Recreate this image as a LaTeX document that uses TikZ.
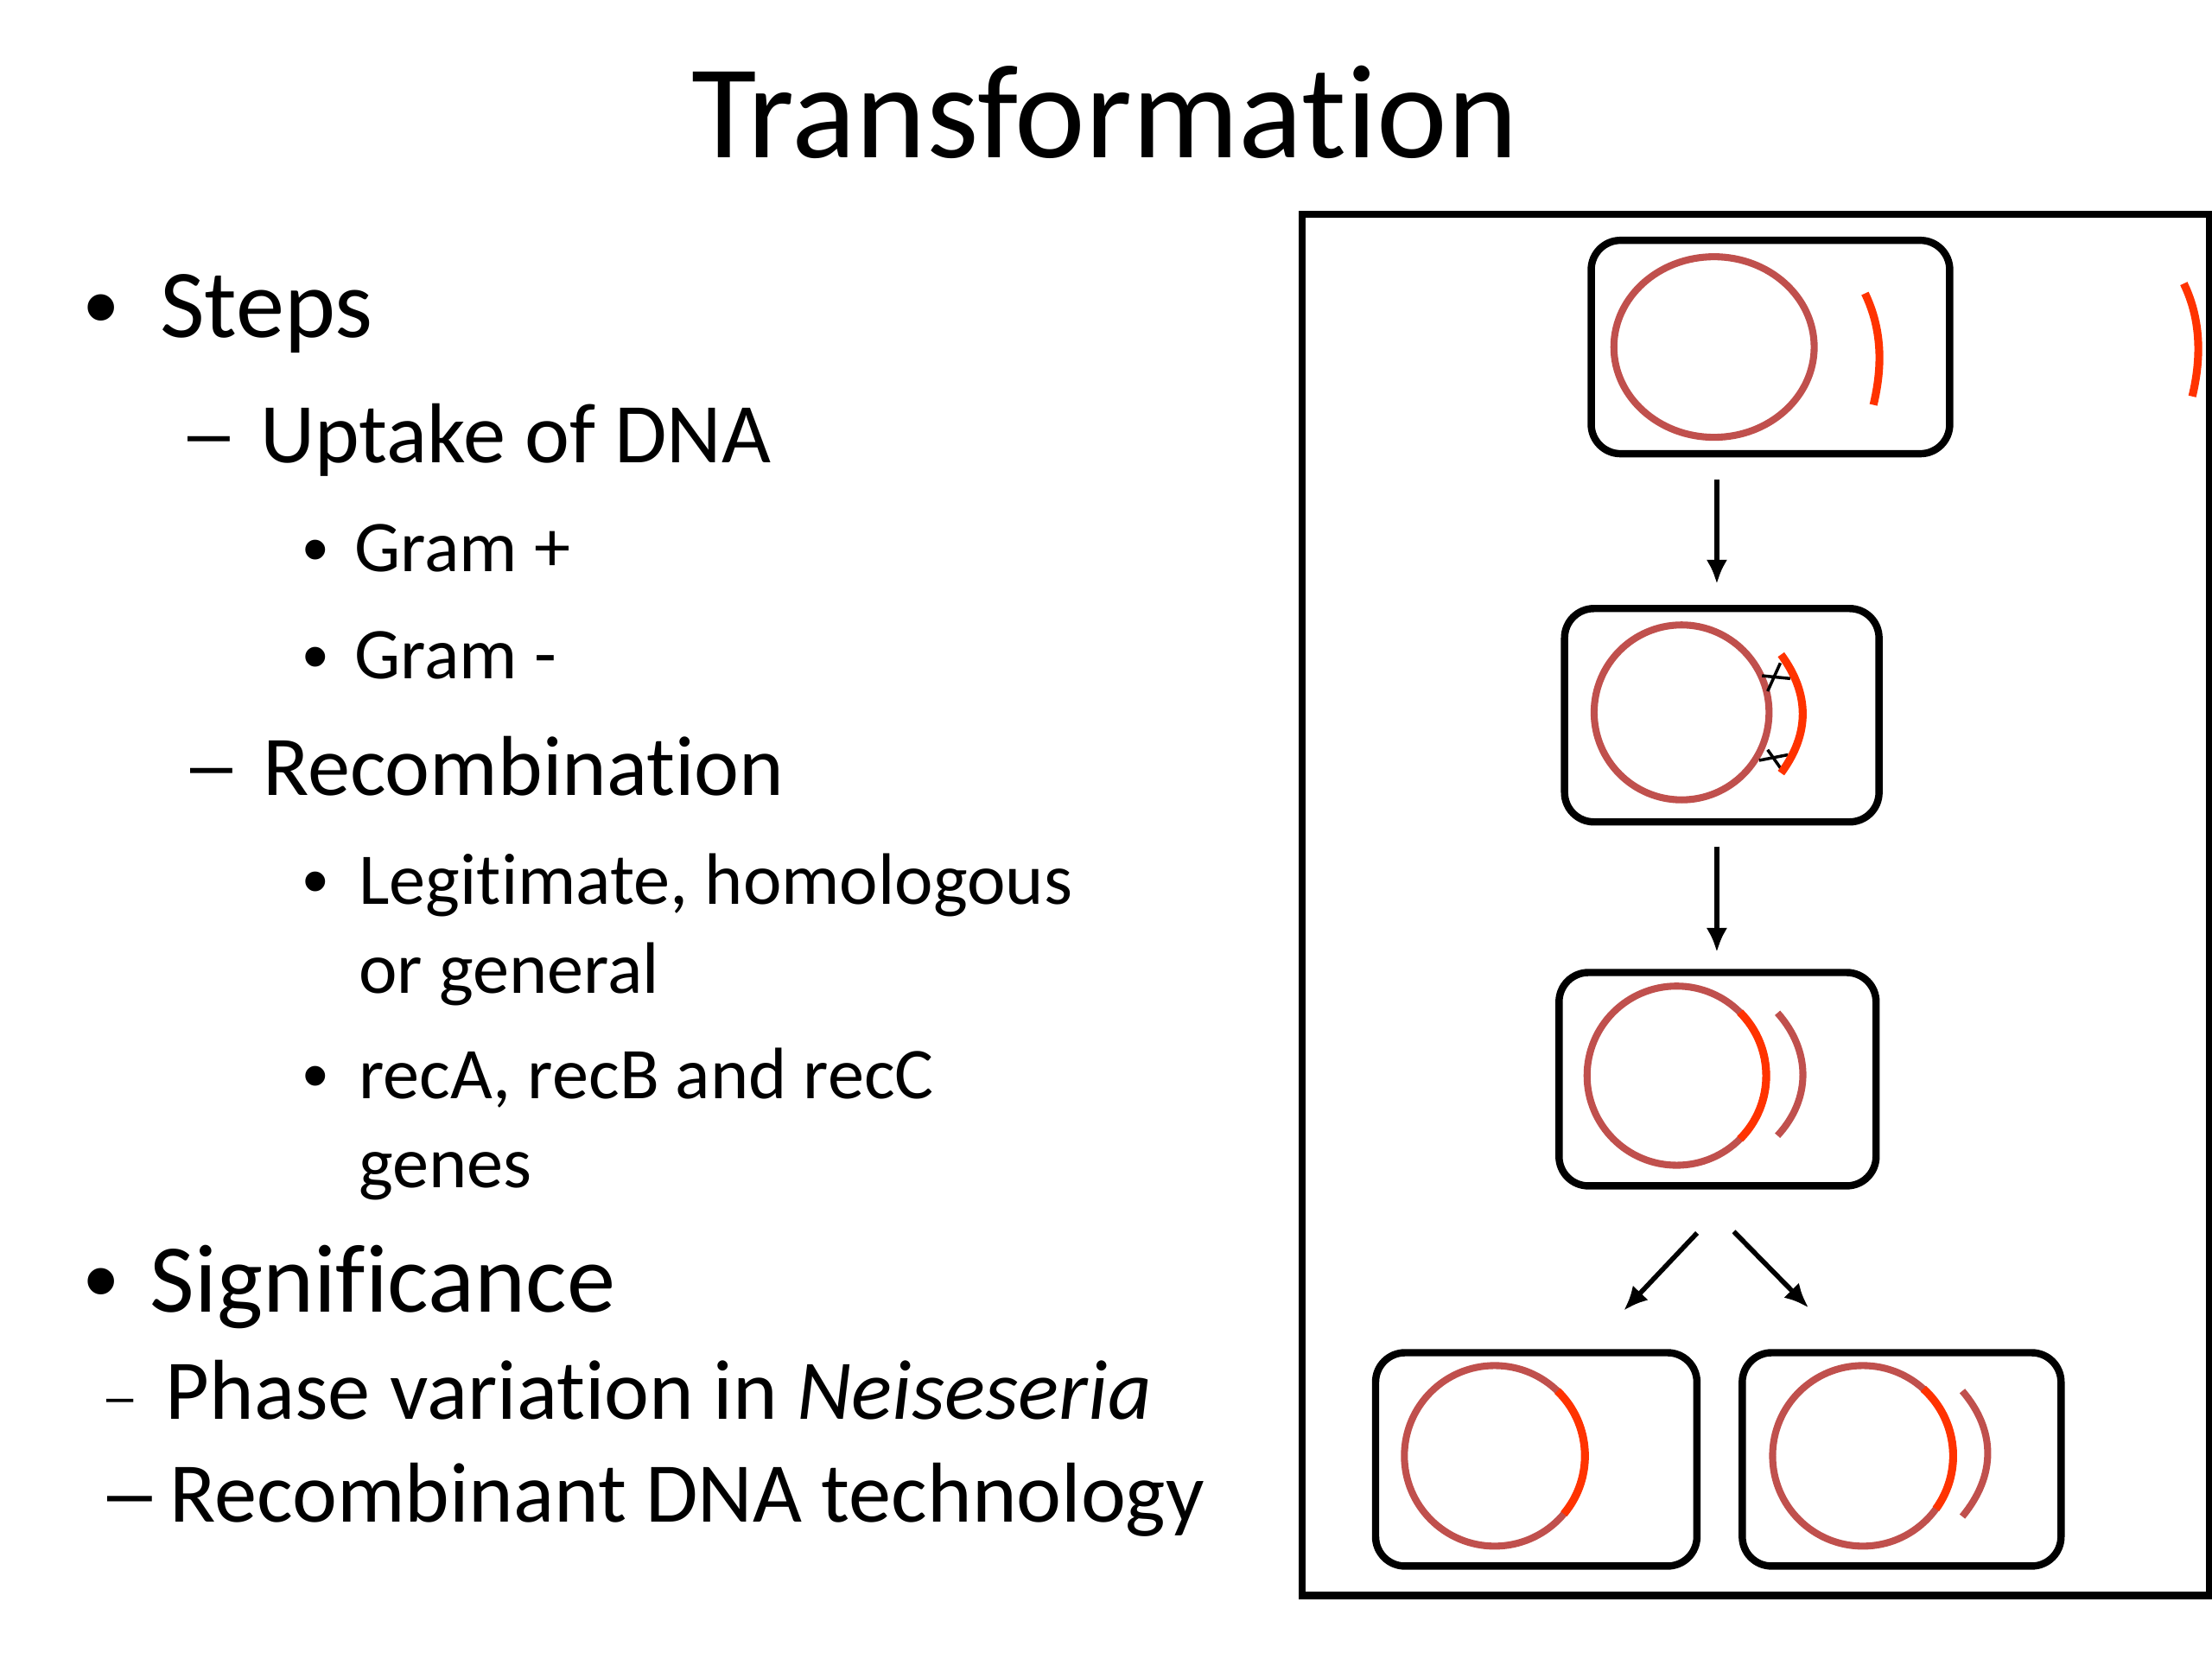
\documentclass[tikz,border=0pt]{standalone}
\usepackage{fontspec}
\setmainfont{Carlito}[RawFeature={-liga;-clig;-calt;-dlig;-rlig;-hlig;-ccmp}]
\newfontfamily\bulfont{Liberation Sans}
\usetikzlibrary{arrows.meta}
\definecolor{ring}{RGB}{192,80,77}
\definecolor{dna}{RGB}{255,51,0}
\newcommand{\fs}[1]{\fontsize{#1}{#1}\selectfont}
\begin{document}
\begin{tikzpicture}[x=0.1633mm,y=-0.1633mm,
  cell/.style={draw=black,line width=2.4pt,rounded corners=3.4mm,inner sep=0pt,minimum height=24.7mm},
  ringline/.style={draw=ring,line width=2.3pt},
  dnaline/.style={draw=dna,line width=2.6pt},
  xline/.style={draw=black,line width=1pt},
  arr/.style={draw=black,line width=1.6pt,-{Latex[length=8pt,width=7pt]}},
  txt/.style={anchor=base west,inner sep=0pt,text=black},
  bul/.style={anchor=base,inner sep=0pt,text=black,font=\bulfont}]
\useasboundingbox (0,0) rectangle (1568,1176);
\fill[white] (0,0) rectangle (1568,1176);

% title
\node[anchor=base,inner sep=0pt] (title) at (783,112) {\fs{44}Transformat\kern0pt ion};

% left text
\node[bul] (b1) at (72,241) {\fs{32}•};
\node[txt] (steps) at (113,239) {\fs{32}Steps};
\node[bul] (d1) at (148,325) {\fs{25}–};
\node[txt] (uptake) at (184,328) {\fs{28}Uptake of DNA};
\node[bul] (b2) at (224,407) {\fs{24}•};
\node[txt] (gp) at (251,405) {\fs{24}Gram +};
\node[bul] (b3) at (224,483) {\fs{24}•};
\node[txt] (gm) at (251,481) {\fs{24}Gram -};
\node[bul] (d2) at (150,560) {\fs{25}–};
\node[txt] (recomb) at (186,564) {\fs{28}Recombinat\kern0pt ion};
\node[bul] (b4) at (224,642) {\fs{24}•};
\node[txt] (legit) at (254,641) {\fs{24}Legit\kern0pt imate, homologous};
\node[txt] (orgen) at (254,704) {\fs{24}or general};
\node[bul] (b5) at (224,780) {\fs{24}•};
\node[txt] (rec) at (254,779) {\fs{24}recA, recB and recC};
\node[txt] (genes) at (254,842) {\fs{24}genes};
\node[bul] (b6) at (72,931) {\fs{32}•};
\node[txt] (signif) at (106,930) {\fs{32}Signif\kern0pt icance};
\node[bul] (d3) at (85.5,1001.5) {\fs{16}–};
\node[txt] (phase) at (117,1006) {\fs{28}Phase variat\kern0pt ion in \textit{Neiseseria}};
\node[bul] (d4) at (92,1077) {\fs{26.5}–};
\node[txt] (rdna) at (120,1079) {\fs{28}Recombinant DNA technology};

% frame
\draw[line width=2.3pt] (923,152) rectangle (1566,1131);

% cells
\node[cell,minimum width=41.5mm] (c1) at (1255,246) {};
\node[cell,minimum width=36.4mm] (c2) at (1220.5,507) {};
\node[cell,minimum width=36.7mm] (c3) at (1217.5,765) {};
\node[cell,minimum width=37.2mm] (c4) at (1089,1034.5) {};
\node[cell,minimum width=36.9mm] (c5) at (1348,1034.5) {};

% cell 1
\draw[ringline] (1215,246) ellipse [x radius=71, y radius=64];
\draw[dnaline] (1322,208) .. controls (1335,235) and (1334,262) .. (1328,287);
\draw[dnaline] (1548,201) .. controls (1561,228) and (1560,256) .. (1554,281);

% cell 2
\draw[ringline] (1192,505) circle [radius=62];
\draw[xline] (1249,479) -- (1269,481);
\draw[xline] (1253,490) -- (1262,470);
\draw[xline] (1247,539) -- (1267.6,535);
\draw[xline] (1253,531.5) -- (1262.5,545);
\draw[dnaline] (1262.5,464) .. controls (1283,492) and (1283,520) .. (1262.5,548);

% cell 3
\draw[ringline] (1188.5,762.5) circle [radius=63.5];
\draw[dnaline] ([shift={(-45:63.5)}]1188.5,762.5) arc[start angle=-45,end angle=45,radius=63.5];
\draw[ringline] (1260,718) .. controls (1284,745) and (1284,779) .. (1260,805);

% cell 4
\draw[ringline] (1059.5,1032) circle [radius=64];
\draw[dnaline] ([shift={(-46:64)}]1059.5,1032) arc[start angle=-46,end angle=40,radius=64];

% cell 5
\draw[ringline] (1320.5,1032) circle [radius=64];
\draw[dnaline] ([shift={(-48:64)}]1320.5,1032) arc[start angle=-48,end angle=36,radius=64];
\draw[ringline] (1391,986) .. controls (1415,1014) and (1415,1046) .. (1391,1075);

% arrows
\coordinate (a1s) at (1217,340); \coordinate (a1e) at (1217,414);
\coordinate (a2s) at (1217,600); \coordinate (a2e) at (1217,675);
\coordinate (a3s) at (1203,874); \coordinate (a3e) at (1151,929);
\coordinate (a4s) at (1229,873); \coordinate (a4e) at (1282,927);
\draw[arr] (a1s) -- (a1e);
\draw[arr] (a2s) -- (a2e);
\draw[arr] (a3s) -- (a3e);
\draw[arr] (a4s) -- (a4e);
\end{tikzpicture}
\end{document}
